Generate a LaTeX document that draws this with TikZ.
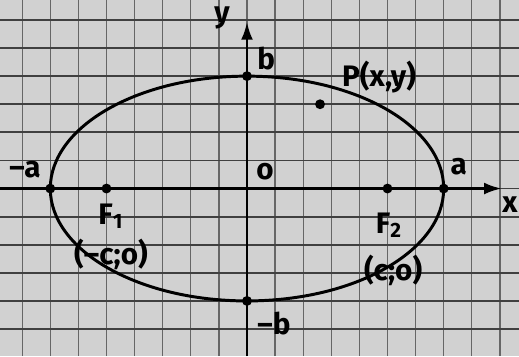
\documentclass[tikz,border=0pt]{standalone}
\usepackage{fontspec}
\setmainfont{Fira Sans}
\usetikzlibrary{arrows.meta}
\tikzset{
  hline/.style={black!75,line width=0.9pt},
  vline/.style={black!60,line width=0.7pt},
  curve/.style={line width=1.5pt},
  axis/.style={line width=1.4pt,-{Latex[length=9pt,width=6pt]}},
  lbl/.style={font=\fontsize{15}{17}\selectfont\bfseries},
  dot/.style={circle,fill,inner sep=0pt,minimum size=5pt}
}
\begin{document}
\begin{tikzpicture}[x=0.5cm,y=0.5cm]
  \useasboundingbox (-8.79,-5.96) rectangle (9.68,6.71);
  \clip (-8.79,-5.96) rectangle (9.68,6.71);
  \fill[black!18] (-8.79,-5.96) rectangle (9.68,6.71);
  \foreach \u in {-8,...,9}
    \draw[vline] (\u,-5.96) -- (\u,6.71);
  \foreach \v in {-5,...,6}
    \draw[hline] (-8.79,\v) -- (9.68,\v);
  \coordinate (xstart) at (-8.79,0);
  \coordinate (xend) at (9.07,0);
  \coordinate (ystart) at (0,-5.96);
  \coordinate (yend) at (0,5.93);
  \draw[axis] (xstart) -- (xend);
  \draw[axis] (ystart) -- (yend);
  \draw[curve] (0,0) ellipse[x radius=7,y radius=4];
  \node[dot] (vright) at (7,0) {};
  \node[dot] (vleft) at (-7,0) {};
  \node[dot] (vtop) at (0,4) {};
  \node[dot] (vbottom) at (0,-4) {};
  \node[dot] (focusl) at (-5,0) {};
  \node[dot] (focusr) at (5,0) {};
  \node[dot] (ptp) at (2.6,3) {};
  \node[lbl] (ylbl) at (-0.89,6.07) {y};
  \node[lbl] (xlbl) at (9.36,-0.59) {x};
  \node[lbl] (blbl) at (0.68,4.61) {b};
  \node[lbl] (mblbl) at (0.96,-4.79) {–b};
  \node[lbl] (malbl) at (-7.9,0.66) {–a};
  \node[lbl] (albl) at (7.54,0.77) {a};
  \node[lbl] (olbl) at (0.64,0.59) {o};
  \node[lbl] (plbl) at (4.7,3.97) {P(x,y)};
  \node[lbl] (fonelbl) at (-4.84,-0.98) {F\textsubscript{1}};
  \node[lbl] (fonecrd) at (-4.84,-2.33) {(–c;o)};
  \node[lbl] (ftwolbl) at (5.05,-1.3) {F\textsubscript{2}};
  \node[lbl] (ftwocrd) at (5.2,-2.9) {(c;o)};
\end{tikzpicture}
\end{document}
